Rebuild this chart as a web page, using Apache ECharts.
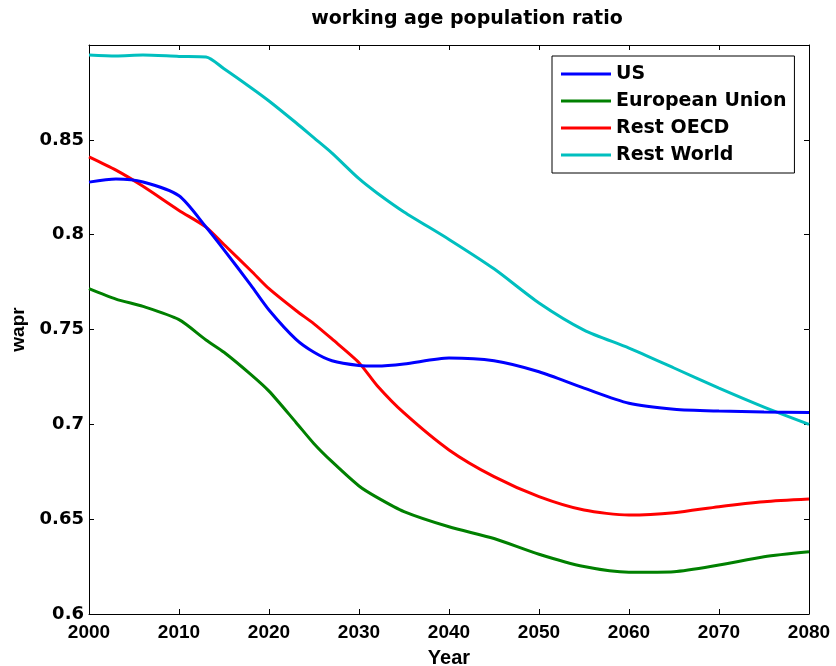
<!DOCTYPE html>
<html>
<head>
<meta charset="utf-8">
<script src="https://cdn.jsdelivr.net/npm/echarts@6/dist/echarts.min.js"></script>
<style>
  html, body { margin: 0; padding: 0; background: #fff; }
  #chart { width: 836px; height: 666px; }
</style>
</head>
<body>
<div id="chart"></div>
<script>
// years
const years = [2000, 2003, 2006, 2010, 2013, 2015, 2018, 2020, 2023, 2025, 2027, 2030,
  2032, 2035, 2040, 2045, 2050, 2055, 2060, 2065, 2070, 2075, 2080]

const usValues = [0.8277, 0.8293, 0.8278, 0.8205, 0.804, 0.792, 0.7733, 0.7603, 0.7448, 0.738, 0.7335, 0.731,
  0.7307, 0.7318, 0.735, 0.7335, 0.7277, 0.7191, 0.7111, 0.708, 0.707, 0.7065, 0.7062]
const euValues = [0.7715, 0.766, 0.7622, 0.7552, 0.7445, 0.738, 0.7262, 0.7175, 0.701, 0.6898, 0.6803, 0.6675,
  0.6615, 0.654, 0.646, 0.6398, 0.6315, 0.625, 0.622, 0.6223, 0.6258, 0.6302, 0.6328]
const oecdValues = [0.841, 0.834, 0.8255, 0.8128, 0.804, 0.7948, 0.781, 0.7715, 0.760, 0.753, 0.745, 0.7325,
  0.7205, 0.706, 0.6865, 0.6724, 0.6619, 0.6548, 0.6522, 0.6534, 0.6566, 0.6592, 0.6606]
const worldValues = [0.8947, 0.8942, 0.8947, 0.894, 0.8937, 0.8875, 0.8775, 0.8705, 0.859, 0.851, 0.843, 0.8295,
  0.822, 0.812, 0.7975, 0.782, 0.764, 0.7497, 0.7402, 0.7297, 0.7191, 0.7091, 0.7]

const seriesNames = ["US", "European Union", "Rest OECD", "Rest World"]
const seriesColors = ["#0000ff", "#008000", "#ff0000", "#00bfbf"]

const wideFont = "DejaVu Sans"
const narrowFont = "'Liberation Sans Narrow', 'Liberation Sans', Arial"

function pairs(values) {
  return years.map((y, i) => [y, values[i]])
}

const chart = echarts.init(document.getElementById("chart"))

const boxAxis = {
  min: 2000,
  max: 2080,
  interval: 10,
  axisLine: { show: true, onZero: false, lineStyle: { color: "#000", width: 1 } },
  axisTick: { show: true, inside: true, length: 5, lineStyle: { color: "#000" } },
  axisLabel: { show: false },
  splitLine: { show: false }
}

chart.setOption({
  animation: false,
  backgroundColor: "#fff",
  title: {
    text: "working age population ratio",
    left: 462,
    top: 5,
    textAlign: "center",
    textStyle: { fontFamily: wideFont, fontWeight: "bold", fontSize: 19, color: "#000" }
  },
  grid: { left: 89, right: 27, top: 45, bottom: 52, outerBoundsMode: "none", containLabel: false },
  legend: {
    orient: "vertical",
    left: 552,
    top: 56,
    icon: "rect",
    itemWidth: 50,
    itemHeight: 3,
    itemGap: 7,
    padding: [8, 8, 8, 9],
    borderColor: "#000",
    borderWidth: 1,
    backgroundColor: "#fff",
    data: seriesNames,
    textStyle: { fontFamily: wideFont, fontWeight: "bold", fontSize: 19, lineHeight: 20, color: "#000" }
  },
  xAxis: [
    {
      type: "value",
      min: 2000,
      max: 2080,
      interval: 10,
      name: "Year",
      nameLocation: "middle",
      nameGap: 34,
      nameTextStyle: { fontFamily: narrowFont, fontWeight: "bold", fontSize: 20, color: "#000" },
      axisLine: { onZero: false, lineStyle: { color: "#000", width: 1 } },
      axisTick: { inside: true, length: 5, lineStyle: { color: "#000" } },
      axisLabel: {
        fontFamily: narrowFont, fontWeight: "bold", fontSize: 19, color: "#000", margin: 9,
        formatter: v => String(v)
      },
      splitLine: { show: false }
    },
    Object.assign({ type: "value", position: "top" }, boxAxis)
  ],
  yAxis: [
    {
      type: "value",
      min: 0.6,
      max: 0.9,
      interval: 0.05,
      name: "wapr",
      nameLocation: "middle",
      nameGap: 58,
      nameTextStyle: { fontFamily: narrowFont, fontWeight: "bold", fontSize: 19, color: "#000" },
      axisLine: { show: true, onZero: false, lineStyle: { color: "#000", width: 1 } },
      axisTick: { show: true, inside: true, length: 5, lineStyle: { color: "#000" } },
      axisLabel: {
        fontFamily: wideFont, fontWeight: "bold", fontSize: 18, color: "#000", margin: 5,
        formatter: v => (v > 0.89 ? "" : String(+v.toFixed(2)))
      },
      splitLine: { show: false }
    },
    Object.assign({}, boxAxis, { type: "value", position: "right", min: 0.6, max: 0.9, interval: 0.05 })
  ],
  series: seriesNames.map((name, i) => ({
    name,
    type: "line",
    xAxisIndex: 0,
    yAxisIndex: 0,
    data: pairs([usValues, euValues, oecdValues, worldValues][i]),
    showSymbol: false,
    smooth: 0.25,
    color: seriesColors[i],
    lineStyle: { width: 3, color: seriesColors[i] },
    z: 10 - i
  }))
})
</script>
</body>
</html>
